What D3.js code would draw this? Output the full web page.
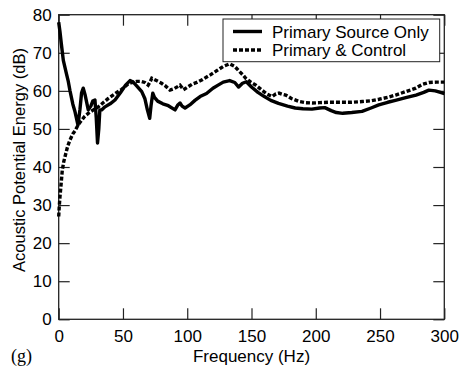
<!DOCTYPE html>
<html>
<head>
<meta charset="utf-8">
<script src="https://cdn.jsdelivr.net/npm/d3@7"></script>
<style>
  body { margin: 0; background: #fff; }
  svg { display: block; font-family: "Liberation Sans", Arial, sans-serif; }
</style>
</head>
<body>
<svg id="chart" width="459" height="372"></svg>
<script>
// data
const freqSource = [0, 1, 2, 3.6, 6, 7.5, 8.8, 11, 12.7, 15, 16.5, 17.8, 19.1, 20.5, 23, 25, 26.5, 28.2, 29.2, 30.2, 31.2, 32, 33.4, 36, 40, 43.8, 48, 52, 55.5, 58, 61, 64.6, 67, 69, 70.8, 71.8, 73.2, 74.5, 77, 81, 85.3, 90.5, 92.5, 94.4, 96, 98.3, 102, 106, 110, 115, 120, 124, 128, 133, 137, 140, 143, 146, 150, 155, 160, 165, 171, 178, 184, 190, 197, 203, 207, 212, 216, 221, 228, 236, 243, 249, 256, 262, 270, 278, 284, 288, 293, 297, 300];
const dbSource = [78, 75.5, 72.5, 68, 64.5, 62.4, 60, 56.5, 54.5, 51, 55, 59.5, 60.7, 59, 55, 56, 57.3, 57.6, 53, 46.3, 50, 55, 55, 55.8, 56.6, 57.6, 59.5, 61.5, 62.7, 62.3, 61.2, 59.8, 58, 55, 52.8, 56, 59.4, 58.3, 57.3, 56.6, 56.1, 55, 56.2, 56.8, 56, 55.5, 56.3, 57.5, 58.5, 59.3, 60.7, 61.5, 62.3, 62.7, 62.2, 61, 62, 62.4, 61, 59.6, 58.5, 57.5, 56.7, 56, 55.5, 55.3, 55.2, 55.5, 55.6, 54.8, 54.3, 54.1, 54.3, 54.6, 55.5, 56.3, 57, 57.5, 58.2, 58.9, 59.6, 60.2, 60, 59.6, 59.3];

const freqControl = [0, 0.5, 1, 2, 2.8, 4, 4.9, 7, 8.8, 11, 12.7, 15, 17.9, 20, 23, 27, 30.8, 35, 38.6, 44, 49, 54, 57, 60.7, 64, 67, 69.6, 71, 72.4, 76, 80, 83, 86.6, 90, 94.4, 97, 100.8, 104, 107.4, 112, 118, 123, 128, 133, 137, 140.3, 143, 145.5, 149, 153.3, 158, 162, 166.2, 169, 171.4, 174, 176.6, 181, 187, 192, 197.3, 203, 210.3, 220, 228, 236.2, 243, 249.2, 256, 262.2, 270, 277.8, 283, 288, 294, 300];
const dbControl = [27, 30, 32.2, 36, 39.2, 41.5, 42.7, 45.5, 47.1, 48.7, 49.5, 51, 52.3, 53.2, 54.1, 55, 55.8, 57, 58, 59.3, 60.4, 61.8, 62.2, 62.5, 62.5, 62.2, 61.5, 62.3, 63.3, 62.7, 62, 61.3, 60.2, 60.6, 61.5, 60.3, 61.1, 61.8, 62.2, 63, 64.2, 65.3, 66.4, 67.1, 66.4, 65.2, 64.3, 63.3, 62.4, 61.5, 60.2, 59.2, 58.5, 59.2, 59.4, 59.1, 58.9, 58, 57.2, 56.9, 56.8, 56.9, 57, 57, 57, 57.2, 57.4, 57.8, 58.3, 58.9, 59.8, 60.7, 61.7, 62.2, 62.3, 62.3];

const xTicks = [0, 50, 100, 150, 200, 250, 300];
const yTicks = [0, 10, 20, 30, 40, 50, 60, 70, 80];
const legendLabels = ["Primary Source Only", "Primary & Control"];

const svg = d3.select("#chart");
const plotL = 58.7, plotR = 444.3, plotT = 14.7, plotB = 319.3;

const x = d3.scaleLinear().domain([0, 300]).range([plotL, plotR]);
const y = d3.scaleLinear().domain([0, 80]).range([plotB, plotT]);

// axes with inward ticks
const tick = 11;
const fontSize = 17;

const gx = svg.append("g").attr("transform", `translate(0,${plotB})`)
  .call(d3.axisBottom(x).tickValues(xTicks).tickSizeInner(-tick).tickSizeOuter(0).tickPadding(11));
const gy = svg.append("g").attr("transform", `translate(${plotL},0)`)
  .call(d3.axisLeft(y).tickValues(yTicks).tickSizeInner(-tick).tickSizeOuter(0).tickPadding(7));
const gt = svg.append("g").attr("transform", `translate(0,${plotT})`)
  .call(d3.axisTop(x).tickValues(xTicks).tickSizeInner(-tick).tickSizeOuter(0).tickFormat(""));
const gr = svg.append("g").attr("transform", `translate(${plotR},0)`)
  .call(d3.axisRight(y).tickValues(yTicks).tickSizeInner(-tick).tickSizeOuter(0).tickFormat(""));

[gx, gy, gt, gr].forEach(g => {
  g.select(".domain").remove();
  g.selectAll("line").attr("stroke", "#222").attr("stroke-width", 1.2);
  g.selectAll("text").attr("fill", "#000").style("font-size", fontSize + "px").style("font-family", "Liberation Sans, Arial, sans-serif");
});

svg.append("rect")
  .attr("x", plotL).attr("y", plotT)
  .attr("width", plotR - plotL).attr("height", plotB - plotT)
  .attr("fill", "none").attr("stroke", "#222").attr("stroke-width", 1.3);

// curves
const line = d3.line().x(d => x(d[0])).y(d => y(d[1]));

const controlPts = d3.zip(freqControl, dbControl);
const sourcePts = d3.zip(freqSource, dbSource);

svg.append("path").datum(controlPts)
  .attr("d", line)
  .attr("fill", "none").attr("stroke", "#000")
  .attr("stroke-width", 3.4).attr("stroke-dasharray", "4,2");

svg.append("path").datum(sourcePts)
  .attr("d", line)
  .attr("fill", "none").attr("stroke", "#000")
  .attr("stroke-width", 3.4).attr("stroke-linejoin", "round");

// legend
const lg = svg.append("g");
lg.append("rect")
  .attr("x", 223).attr("y", 19).attr("width", 216.7).attr("height", 42.7)
  .attr("fill", "#fff").attr("stroke", "#222").attr("stroke-width", 1);

legendLabels.forEach((lab, i) => {
  const yy = 31.5 + i * 18.5;
  lg.append("line")
    .attr("x1", 233).attr("x2", 262).attr("y1", yy).attr("y2", yy)
    .attr("stroke", "#000").attr("stroke-width", 3.4)
    .attr("stroke-dasharray", i === 1 ? "4,2" : null);
  lg.append("text")
    .attr("x", 272).attr("y", yy + 6)
    .style("font-size", fontSize + "px")
    .text(lab);
});

// axis titles
svg.append("text")
  .attr("x", (plotL + plotR) / 2).attr("y", 362)
  .attr("text-anchor", "middle")
  .style("font-size", fontSize + "px")
  .text("Frequency (Hz)");

svg.append("text")
  .attr("transform", `translate(25,160) rotate(-90)`)
  .attr("text-anchor", "middle")
  .style("font-size", "16.5px")
  .text("Acoustic Potential Energy (dB)");

svg.append("text")
  .attr("x", 11).attr("y", 362)
  .style("font-family", "Liberation Serif, Times New Roman, serif")
  .style("font-size", "18px")
  .text("(g)");
</script>
</body>
</html>
